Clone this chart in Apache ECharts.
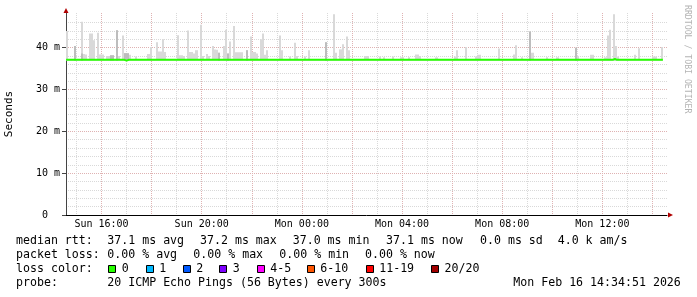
<!DOCTYPE html>
<html><head><meta charset="utf-8">
<script src="https://cdn.jsdelivr.net/npm/echarts@6/dist/echarts.min.js"></script>
<style>html,body{margin:0;padding:0;background:#fff}#c{width:697px;height:297px}</style>
</head><body><div id="c"></div>
<script>
// ---------- data ----------
// time axis in hours since Sun 00:00
const axisStartHour = 14 + 34/60 + 51/3600;   // Sun 14:34:51
const axisEndHour = axisStartHour + 24;        // Mon 14:34:51
const firstSampleHour = 14 + 35/60;            // 5-minute samples
const sampleHours = 5/60;
const labelHours = [16, 20, 24, 28, 32, 36];
const hourGrid = [15,17,19,21,23,25,27,29,31,33,35,37];
const twoHourGrid = [16,18,20,22,24,26,28,30,32,34,36,38];
const yLabelTicks = [0, 10, 20, 30, 40];
const yMajorGrid = [0, 10, 20, 30, 40];
const yMinorGrid = [2,4,6,8,12,14,16,18,22,24,26,28,32,34,36,38,42,44,46];

// top of the ping smoke for each 5-minute sample (ms)
const smokeMax = [
 44.0,37.3,37.3,37.3,40.4,37.3,37.3,46.2,38.5,38.4,37.3,43.4,43.4,41.8,37.3,43.6,38.4,38.4,37.3,38.0,38.0,38.2,38.2,37.3,
 44.2,38.0,37.3,42.9,38.7,38.7,38.3,37.3,37.3,37.9,37.3,37.3,37.3,37.3,37.3,38.5,40.2,37.3,37.3,41.3,39.1,39.1,42.0,39.0,
 37.3,37.3,37.3,37.3,37.3,43.0,38.2,38.2,38.0,37.3,44.1,39.0,39.0,38.6,39.4,37.3,45.5,38.0,37.3,38.5,38.0,37.3,40.4,39.6,
 39.5,38.8,37.3,40.4,44.3,38.6,41.5,37.3,45.2,38.9,38.9,38.9,38.9,37.3,39.4,37.3,42.7,39.0,39.0,38.6,37.3,42.0,43.4,38.3,
 39.4,37.3,37.3,37.3,37.3,37.3,42.9,39.4,37.3,37.3,37.3,37.9,37.3,41.2,38.0,37.3,37.3,37.3,37.9,37.3,39.4,37.3,37.3,37.3,
 37.3,37.3,37.3,37.3,41.3,37.3,37.3,37.3,48.0,38.8,37.3,39.6,40.8,37.3,42.7,39.4,37.3,37.3,37.3,37.3,37.3,37.3,37.3,38.0,
 38.0,37.3,37.3,37.3,37.3,37.3,37.9,37.3,37.7,37.3,37.3,37.3,37.9,37.3,37.3,37.3,37.7,37.7,37.3,37.3,37.7,37.3,37.3,38.4,
 38.4,38.0,37.3,37.3,37.3,37.3,37.3,37.3,37.3,37.7,37.3,37.3,37.3,37.3,37.3,37.3,37.3,37.3,37.9,39.4,37.3,37.3,37.3,40.2,
 37.3,37.3,37.3,37.3,37.9,38.3,38.3,37.3,37.3,37.3,37.3,37.3,37.3,37.3,37.3,39.8,37.3,37.3,37.3,37.3,37.3,37.3,38.4,40.6,
 37.3,37.3,37.7,37.3,37.3,37.3,43.9,38.8,37.3,37.3,37.3,37.3,37.3,37.3,37.7,37.3,37.3,37.3,37.3,37.7,37.3,37.3,37.3,37.3,
 37.3,37.3,37.3,37.3,40.0,38.0,37.3,37.3,37.3,37.3,37.3,38.3,38.3,37.3,37.3,37.3,37.3,37.3,37.7,42.9,44.3,37.3,48.0,40.4,
 37.9,37.3,37.3,37.3,37.3,37.3,37.3,37.3,38.3,37.3,39.9,37.3,37.3,37.3,37.3,37.3,37.3,37.9,37.9,37.3,37.3,40.2,null,null
];
// darker (inner) smoke: [sample index, top in ms]
const smokeDark = [[4,40.4],[7,38.6],[21,38.2],[22,38.2],[24,44.2],[28,38.7],[29,38.7],[73,38.8],[77,38.6],[86,39.4],[124,41.3],[222,43.9],[244,40.0]];
const smokeFloor = 36.9;
// median rtt per sample (ms)
const medianRtt = [
 37.1,37.1,37.1,37.1,37.1,37.1,37.1,37.1,37.1,37.1,37.1,37.1,37.1,37.1,37.1,37.1,37.1,37.1,37.1,37.1,37.1,37.1,37.1,37.1,
 37.1,37.1,37.1,37.1,36.9,37.1,37.1,37.1,37.1,37.1,37.1,37.1,37.1,37.1,37.1,37.1,37.1,37.1,37.1,37.1,37.1,37.1,37.1,37.1,
 37.1,37.1,37.1,37.1,37.1,37.1,37.1,37.1,37.1,37.1,37.1,37.1,37.1,37.1,37.1,37.1,37.1,37.1,37.1,37.1,37.1,37.1,37.1,37.1,
 37.1,37.1,37.1,37.1,37.1,37.1,37.1,37.1,37.1,37.1,37.1,37.1,37.1,37.1,37.1,37.1,37.1,37.1,37.1,37.1,37.1,37.1,37.1,37.1,
 37.1,37.1,37.1,37.1,37.1,37.1,37.1,37.1,37.1,37.1,37.1,37.1,37.1,37.1,37.1,37.1,37.1,37.1,37.1,37.1,37.1,37.1,37.1,37.1,
 37.1,37.1,37.1,37.1,37.1,37.1,37.1,37.1,37.1,37.1,37.1,37.1,37.1,37.1,37.1,37.1,37.1,37.1,37.1,37.1,37.1,37.1,37.1,37.1,
 37.1,37.1,37.1,37.1,37.1,37.1,37.1,37.1,37.1,37.1,37.1,37.1,37.1,37.1,37.1,37.1,37.1,37.1,37.1,37.1,37.1,37.1,37.1,37.1,
 37.1,37.1,37.1,37.1,37.1,37.1,37.1,37.1,37.1,37.1,37.1,37.1,37.1,37.1,37.1,37.1,37.1,37.1,37.1,37.1,37.1,37.1,37.1,37.1,
 37.1,37.1,37.1,37.1,37.1,37.1,37.1,37.1,37.1,37.1,37.1,37.1,37.1,37.1,37.1,37.1,37.1,37.1,37.1,37.1,37.1,37.1,37.1,37.1,
 37.1,37.1,37.1,37.1,37.1,37.1,37.1,37.1,37.1,37.1,37.1,37.1,37.1,37.1,37.1,37.1,37.1,37.1,37.1,37.1,37.1,37.1,37.1,37.1,
 37.1,37.1,37.1,37.1,37.1,37.1,37.1,37.1,37.1,37.1,37.1,37.1,37.1,37.1,37.1,37.1,37.1,37.1,37.1,37.1,37.1,37.1,37.3,37.1,
 37.1,37.1,37.1,37.1,37.1,37.1,37.1,37.1,37.1,37.1,37.1,37.1,37.1,37.1,37.1,37.1,37.1,37.1,37.1,37.1,37.1,37.1,null,null
];

// legend texts
const rttStats = ['37.1 ms avg', '37.2 ms max', '37.0 ms min', '37.1 ms now', '0.0 ms sd', '4.0 k am/s'];
const lossStats = ['0.00 % avg', '0.00 % max', '0.00 % min', '0.00 % now'];
const lossLabels = ['0', '1', '2', '3', '4-5', '6-10', '11-19', '20/20'];
const lossColors = ['#26ff00', '#00b8ff', '#0059ff', '#7e00ff', '#ff00ff', '#ff5500', '#ff0000', '#a10000'];
const probeText = '20 ICMP Echo Pings (56 Bytes) every 300s';
const dateText = 'Mon Feb 16 14:34:51 2026';
const watermark = 'RRDTOOL / TOBI OETIKER';

// ---------- chart ----------
const MONO = '"DejaVu Sans Mono", monospace';
const GRID_MINOR = '#d9d9d9';
const GRID_MAJOR = '#dfb2b2';
const ARROW = '#b00000';

const sampleStart = i => firstSampleHour + i * sampleHours;
const lightData = [], medianData = [];
let lastValid = -1;
smokeMax.forEach((v, i) => {
  if (v == null) return;
  lightData.push([sampleStart(i), sampleStart(i + 1), smokeFloor, v]);
});
medianRtt.forEach((v, i) => {
  if (v == null) return;
  medianData.push([sampleStart(i), v]);
  lastValid = i;
});
medianData.push([sampleStart(lastValid + 1), medianRtt[lastValid]]);
const darkData = smokeDark.map(([i, v]) => [sampleStart(i), sampleStart(i + 1), smokeFloor, v]);

function rectRenderer(color) {
  return function (params, api) {
    const p0 = api.coord([api.value(0), api.value(3)]);
    const p1 = api.coord([api.value(1), api.value(2)]);
    const x0 = Math.round(p0[0]), x1 = Math.round(p1[0]);
    return {
      type: 'rect',
      shape: { x: x0, y: p0[1], width: Math.max(1, x1 - x0), height: p1[1] - p0[1] },
      style: { fill: color }
    };
  };
}

const hourFmt = h => (h < 24 ? 'Sun ' : 'Mon ') + String(h % 24).padStart(2, '0') + ':00';
const xBase = { type: 'value', min: axisStartHour, max: axisEndHour, position: 'bottom' };
const yBase = { type: 'value', min: 0, max: 48.3, position: 'left' };

const graphics = [];
function txt(x, y, s, extra) {
  graphics.push(Object.assign({ type: 'text', x: x, y: y, silent: true,
    style: { text: s, font: '11.6px ' + MONO, fill: '#000', verticalAlign: 'middle', align: 'left' } }, extra || {}));
}
const rowY = [241, 255, 269, 283];
txt(16, rowY[0], 'median rtt:');
const rttX = [107.3, 200, 292.7, 386, 480, 557.7];
rttStats.forEach((s, k) => txt(rttX[k], rowY[0], s));
txt(16, rowY[1], 'packet loss:');
const lossX = [107.3, 193.3, 279.3, 365];
lossStats.forEach((s, k) => txt(lossX[k], rowY[1], s));
txt(16, rowY[2], 'loss color:');
const boxX = [108.3, 145.7, 182.7, 219.3, 256.7, 306.7, 365.7, 431];
lossLabels.forEach((s, k) => {
  graphics.push({ type: 'rect', silent: true,
    shape: { x: Math.round(boxX[k]) + 0.5, y: 265.5, width: 7, height: 7 },
    style: { fill: lossColors[k], stroke: '#000', lineWidth: 1 } });
  txt(boxX[k] + 13.5, rowY[2], s);
});
txt(16, rowY[3], 'probe:');
txt(107.3, rowY[3], probeText);
txt(513.3, rowY[3], dateText);
graphics.push({ type: 'text', x: 687, y: 5, rotation: -Math.PI / 2, silent: true,
  style: { text: watermark, font: '8.2px ' + MONO, fill: '#b4b4b4', verticalAlign: 'middle', align: 'left' } });

const option = {
  animation: false,
  backgroundColor: '#ffffff',
  grid: { left: 66, top: 13, width: 601, height: 202, containLabel: false, outerBoundsMode: 'none' },
  xAxis: [
    Object.assign({}, xBase, {
      axisLine: { show: true, lineStyle: { color: '#000', width: 1 } },
      axisTick: { show: false },
      splitLine: { show: false },
      axisLabel: { customValues: labelHours, formatter: hourFmt, fontFamily: MONO, fontSize: 10, color: '#000', margin: 4 }
    }),
    Object.assign({}, xBase, {
      axisLine: { show: false }, axisLabel: { show: false },
      axisTick: { show: false, customValues: hourGrid },
      splitLine: { show: true, lineStyle: { color: GRID_MINOR, width: 1, type: [1, 1] } }
    }),
    Object.assign({}, xBase, {
      axisLine: { show: false }, axisLabel: { show: false },
      axisTick: { show: false, customValues: twoHourGrid },
      splitLine: { show: true, lineStyle: { color: GRID_MAJOR, width: 1, type: [1, 1] } }
    }),
    Object.assign({}, xBase, {
      axisLine: { show: true, symbol: ['none', 'triangle'], symbolSize: [5, 5], symbolOffset: [0, 3.5],
        lineStyle: { color: ARROW, width: 0 } },
      axisLabel: { show: false }, axisTick: { show: false }, splitLine: { show: false }
    })
  ],
  yAxis: [
    Object.assign({}, yBase, {
      axisLine: { show: true, lineStyle: { color: '#444', width: 1 } },
      axisTick: { show: false, customValues: yMinorGrid },
      splitLine: { show: true, lineStyle: { color: GRID_MINOR, width: 1, type: [1, 1] } },
      axisLabel: { customValues: yLabelTicks, formatter: v => (v === 0 ? '0  ' : v + ' m'),
        fontFamily: MONO, fontSize: 10, color: '#000', margin: 6 },
      name: 'Seconds', nameLocation: 'middle', nameGap: 51, nameRotate: 90,
      nameTextStyle: { fontFamily: MONO, fontSize: 11, color: '#000' }
    }),
    Object.assign({}, yBase, {
      axisLine: { show: false }, axisLabel: { show: false },
      axisTick: { show: true, length: 4, customValues: yMajorGrid, lineStyle: { color: '#444' } },
      splitLine: { show: true, showMinLine: false, lineStyle: { color: GRID_MAJOR, width: 1, type: [1, 1] } }
    }),
    Object.assign({}, yBase, {
      axisLine: { show: true, symbol: ['none', 'triangle'], symbolSize: [5, 5], symbolOffset: [0, 2.5],
        lineStyle: { color: ARROW, width: 0 } },
      axisLabel: { show: false }, axisTick: { show: false }, splitLine: { show: false }
    })
  ],
  series: [
    { type: 'custom', name: 'smoke', renderItem: rectRenderer('#d9d9d9'), data: lightData,
      encode: { x: [0, 1], y: [2, 3] }, clip: true, z: 2, silent: true },
    { type: 'custom', name: 'smokeDark', renderItem: rectRenderer('#bdbdbd'), data: darkData,
      encode: { x: [0, 1], y: [2, 3] }, clip: true, z: 2, silent: true },
    { type: 'line', name: 'median rtt', data: medianData, step: 'end', showSymbol: false, symbol: 'none',
      lineStyle: { color: '#26ff00', width: 2 }, z: 3, silent: true }
  ],
  graphic: graphics
};
const chart = echarts.init(document.getElementById('c'), null, { renderer: 'canvas' });
chart.setOption(option);
</script></body></html>
